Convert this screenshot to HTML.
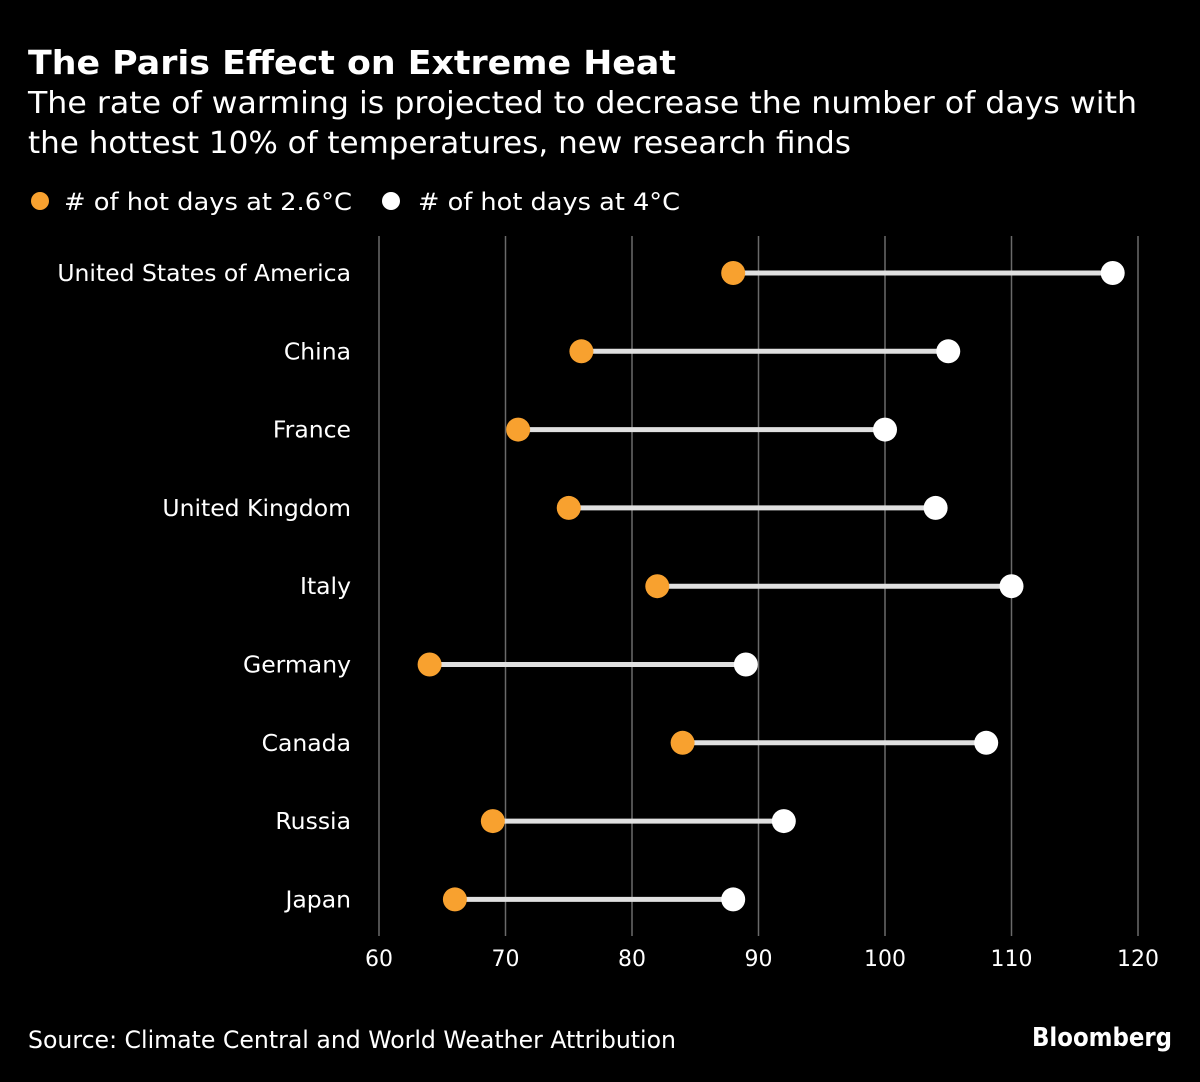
<!DOCTYPE html>
<html><head><meta charset="utf-8"><style>
body{margin:0;background:#000;width:1200px;height:1078px;overflow:hidden;font-family:"DejaVu Sans",sans-serif;color:#fff}
</style></head><body>
<svg width="1200" height="1078" xmlns="http://www.w3.org/2000/svg" style="font-family:'DejaVu Sans','Liberation Sans',sans-serif">
<text x="28" y="74" font-size="33" font-weight="bold" fill="#fff" textLength="648" lengthAdjust="spacingAndGlyphs">The Paris Effect on Extreme Heat</text>
<text x="28" y="113" font-size="30" fill="#fff" textLength="1109" lengthAdjust="spacingAndGlyphs">The rate of warming is projected to decrease the number of days with</text>
<text x="28" y="153" font-size="30" fill="#fff" textLength="823" lengthAdjust="spacingAndGlyphs">the hottest 10% of temperatures, new research finds</text>
<g>
<circle cx="40" cy="201" r="9" fill="#f8a12f"/>
<text x="64" y="210" font-size="24" fill="#fff" textLength="288" lengthAdjust="spacingAndGlyphs"># of hot days at 2.6°C</text>
<circle cx="391" cy="201" r="9" fill="#fff"/>
<text x="418" y="210" font-size="24" fill="#fff" textLength="262" lengthAdjust="spacingAndGlyphs"># of hot days at 4°C</text>
</g>
<g id="grid"></g>
<g id="marks"></g>
<text x="28" y="1048" font-size="24" fill="#fff" textLength="648" lengthAdjust="spacingAndGlyphs">Source: Climate Central and World Weather Attribution</text>
<text x="1172" y="1046" font-size="26" font-weight="bold" fill="#fff" text-anchor="end" textLength="140" lengthAdjust="spacingAndGlyphs">Bloomberg</text>
</svg>
<script>
const countries=["United States of America","China","France","United Kingdom","Italy","Germany","Canada","Russia","Japan"];
const hot26=[88,76,71,75,82,64,84,69,66];
const hot4=[118,105,100,104,110,89,108,92,88];
const ticks=[60,70,80,90,100,110,120];
const NS="http://www.w3.org/2000/svg";
const x=v=>379+(v-60)*(1138-379)/60;
const y=i=>273+i*78.3;
function mk(t,a,p){const e=document.createElementNS(NS,t);for(const k in a)e.setAttribute(k,a[k]);p.appendChild(e);return e;}
const g=document.getElementById('grid'),m=document.getElementById('marks');
ticks.forEach(t=>{
 const l=mk('line',{x1:x(t),x2:x(t),y1:236,y2:936,stroke:'#6a6a6a','stroke-width':1.5},g);
 
 
 const tx=mk('text',{x:x(t),y:966,'font-size':22,fill:'#fff','text-anchor':'middle'},g);
 tx.textContent=t;
 
 
});
countries.forEach((c,i)=>{
 const lb=mk('text',{x:351,y:y(i)+8,'font-size':23.5,fill:'#fff','text-anchor':'end'},m);
 lb.textContent=c;
 
 
 const ln=mk('line',{x1:x(hot26[i]),x2:x(hot4[i]),y1:y(i),y2:y(i),stroke:'#e0e0e0','stroke-width':5},m);
 
 
 const a=mk('circle',{cx:x(hot26[i]),cy:y(i),r:12,fill:'#f8a12f'},m);
 
 
 const b=mk('circle',{cx:x(hot4[i]),cy:y(i),r:12,fill:'#fff'},m);
 
 
});
</script>
</body></html>
